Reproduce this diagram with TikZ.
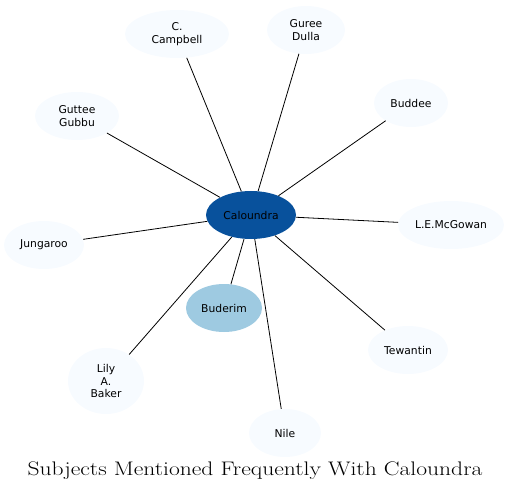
\documentclass[tikz,border=0pt]{standalone}
\usepackage{fontspec}
\usepackage{tikz}
\usetikzlibrary{shapes.geometric, positioning}
\newfontfamily\nodefont{DejaVu Sans}
\definecolor{hubblue}{RGB}{8, 81, 156}
\definecolor{nearblue}{RGB}{158, 202, 225}
\definecolor{paleblue}{RGB}{247, 251, 255}

\begin{document}
\begin{tikzpicture}[
    x=1bp, y=-1bp,
    hub/.style={ellipse, fill=hubblue, inner sep=0pt, align=center, font=\nodefont\fontsize{10.8}{12.5}\selectfont, minimum width=90bp, minimum height=48bp},
    nearsubj/.style={ellipse, fill=nearblue, inner sep=0pt, align=center, font=\nodefont\fontsize{10.8}{12.5}\selectfont, minimum width=76bp, minimum height=48bp},
    subj/.style={ellipse, fill=paleblue, inner sep=0pt, align=center, font=\nodefont\fontsize{10.8}{12.5}\selectfont, minimum height=48bp},
    link/.style={draw=black, line width=0.8bp}
]
    \useasboundingbox (0,0) rectangle (510,493);

    % Centre
    \node[hub] (caloundra) at (251, 215) {Caloundra};

    % Subjects
    \node[nearsubj] (buderim) at (224, 308) {Buderim};
    \node[subj, minimum width=104bp] (campbell) at (177, 34) {C.\\Campbell};
    \node[subj, minimum width=78bp] (guree) at (306, 30) {Guree\\Dulla};
    \node[subj, minimum width=74bp] (buddee) at (411, 103) {Buddee};
    \node[subj, minimum width=84bp] (guttee) at (77, 116) {Guttee\\Gubbu};
    \node[subj, minimum width=80bp] (jungaroo) at (44, 245) {Jungaroo};
    \node[subj, minimum width=106bp] (mcgowan) at (451, 225) {L.E.McGowan};
    \node[subj, minimum width=80bp] (tewantin) at (408, 350) {Tewantin};
    \node[subj, minimum width=76bp, minimum height=66bp] (lily) at (106, 381) {Lily\\A.\\Baker};
    \node[subj, minimum width=72bp] (nile) at (285, 433) {Nile};

    % Links
    \foreach \s in {buderim, campbell, guree, buddee, guttee, jungaroo, mcgowan, tewantin, lily, nile}
        \draw[link] (caloundra) -- (\s);

    % Title
    \node[font=\fontsize{19.7}{21}\selectfont] (title) at (255, 471) {\scalebox{1.2}[1]{Subjects Mentioned Frequently With Caloundra}};
\end{tikzpicture}
\end{document}
